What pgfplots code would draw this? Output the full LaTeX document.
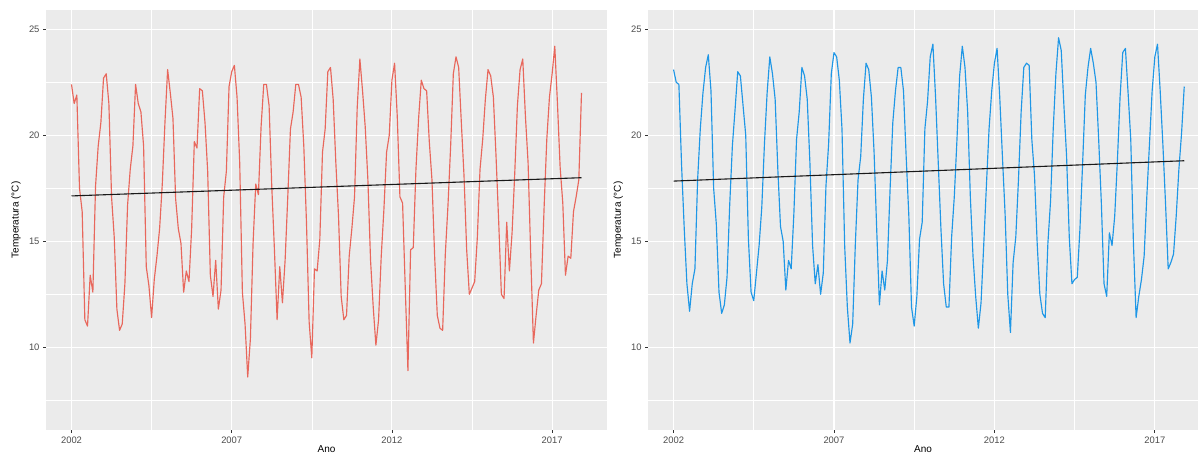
\documentclass[border=0pt]{standalone}
\usepackage{fontspec}
\setmainfont{Liberation Sans}
\usepackage{pgfplots}
\usepackage{pgfplotstable}
\pgfplotsset{compat=1.18}
\definecolor{ggbg}{HTML}{EBEBEB}
\definecolor{ggtick}{HTML}{333333}
\definecolor{ggtext}{HTML}{4D4D4D}
\definecolor{redline}{HTML}{E8675C}
\definecolor{blueline}{HTML}{1F97E6}

\pgfplotstableread{
yr mo red blue
2002 1 22.4 23.1
2002 2 21.5 22.5
2002 3 21.9 22.4
2002 4 17.5 18.6
2002 5 16.4 15.6
2002 6 11.3 13.0
2002 7 11.0 11.7
2002 8 13.4 13.0
2002 9 12.6 13.7
2002 10 17.6 17.9
2002 11 19.5 20.3
2002 12 20.6 22.0
2003 1 22.7 23.2
2003 2 22.9 23.8
2003 3 21.5 22.1
2003 4 17.1 17.5
2003 5 15.2 15.8
2003 6 11.8 12.6
2003 7 10.8 11.6
2003 8 11.1 12.0
2003 9 13.0 13.3
2003 10 16.7 16.7
2003 11 18.4 19.5
2003 12 19.5 21.2
2004 1 22.4 23.0
2004 2 21.5 22.8
2004 3 21.1 21.4
2004 4 19.5 20.0
2004 5 13.8 15.1
2004 6 12.9 12.6
2004 7 11.4 12.2
2004 8 13.2 13.5
2004 9 14.3 14.8
2004 10 15.6 16.6
2004 11 17.7 19.6
2004 12 20.6 22.0
2005 1 23.1 23.7
2005 2 22.0 22.9
2005 3 20.8 21.7
2005 4 17.0 18.4
2005 5 15.6 15.7
2005 6 14.9 15.0
2005 7 12.6 12.7
2005 8 13.6 14.1
2005 9 13.1 13.7
2005 10 15.6 16.3
2005 11 19.7 19.8
2005 12 19.4 21.1
2006 1 22.2 23.2
2006 2 22.1 22.8
2006 3 20.6 21.7
2006 4 18.3 18.7
2006 5 13.4 14.8
2006 6 12.4 13.0
2006 7 14.1 13.9
2006 8 11.8 12.5
2006 9 12.7 13.5
2006 10 17.1 17.6
2006 11 18.3 19.6
2006 12 22.3 22.9
2007 1 23.0 23.9
2007 2 23.3 23.7
2007 3 21.8 22.6
2007 4 18.7 20.3
2007 5 12.6 14.8
2007 6 11.1 11.9
2007 7 8.6 10.2
2007 8 10.4 11.1
2007 9 14.9 14.9
2007 10 17.7 17.9
2007 11 17.2 19.0
2007 12 20.4 21.7
2008 1 22.4 23.4
2008 2 22.4 23.1
2008 3 21.4 21.8
2008 4 17.6 19.2
2008 5 14.6 15.5
2008 6 11.3 12.0
2008 7 13.8 13.6
2008 8 12.1 12.7
2008 9 14.1 14.1
2008 10 17.1 17.5
2008 11 20.3 20.6
2008 12 21.1 22.1
2009 1 22.4 23.2
2009 2 22.4 23.2
2009 3 21.8 22.1
2009 4 19.5 19.0
2009 5 15.9 16.2
2009 6 11.2 11.9
2009 7 9.5 11.0
2009 8 13.7 12.4
2009 9 13.6 15.1
2009 10 15.1 15.9
2009 11 19.2 20.3
2009 12 20.3 21.6
2010 1 23.0 23.7
2010 2 23.2 24.3
2010 3 21.7 21.8
2010 4 18.7 18.7
2010 5 16.2 15.6
2010 6 12.4 13.0
2010 7 11.3 11.9
2010 8 11.5 11.9
2010 9 14.3 15.2
2010 10 15.6 17.1
2010 11 17.1 19.8
2010 12 21.3 22.8
2011 1 23.6 24.2
2011 2 22.1 23.2
2011 3 20.4 21.1
2011 4 17.9 17.1
2011 5 14.1 14.3
2011 6 11.9 12.4
2011 7 10.1 10.9
2011 8 11.3 12.1
2011 9 14.3 14.8
2011 10 16.5 17.6
2011 11 19.2 20.3
2011 12 20.0 22.1
2012 1 22.6 23.4
2012 2 23.4 24.1
2012 3 20.9 21.8
2012 4 17.1 19.0
2012 5 16.8 16.3
2012 6 12.8 12.5
2012 7 8.9 10.7
2012 8 14.6 14.0
2012 9 14.7 15.2
2012 10 18.4 17.9
2012 11 20.8 21.1
2012 12 22.6 23.2
2013 1 22.2 23.4
2013 2 22.1 23.3
2013 3 19.7 19.8
2013 4 17.9 18.1
2013 5 14.3 14.9
2013 6 11.5 12.5
2013 7 10.9 11.6
2013 8 10.8 11.4
2013 9 14.4 14.9
2013 10 16.7 16.9
2013 11 19.5 20.3
2013 12 22.9 22.9
2014 1 23.7 24.6
2014 2 23.2 24.0
2014 3 20.6 21.4
2014 4 18.1 19.0
2014 5 14.6 15.2
2014 6 12.5 13.0
2014 7 12.8 13.2
2014 8 13.1 13.3
2014 9 15.2 15.6
2014 10 18.4 18.7
2014 11 19.8 21.9
2014 12 21.7 23.2
2015 1 23.1 24.1
2015 2 22.8 23.4
2015 3 21.8 22.5
2015 4 19.0 19.8
2015 5 15.9 16.8
2015 6 12.5 13.0
2015 7 12.3 12.4
2015 8 15.9 15.4
2015 9 13.6 14.8
2015 10 15.4 16.2
2015 11 18.2 18.8
2015 12 21.4 21.8
2016 1 23.1 23.9
2016 2 23.6 24.1
2016 3 20.9 22.0
2016 4 18.7 19.8
2016 5 14.3 14.9
2016 6 10.2 11.4
2016 7 11.5 12.4
2016 8 12.7 13.2
2016 9 13.0 14.3
2016 10 16.6 17.1
2016 11 19.8 19.6
2016 12 21.8 22.1
2017 1 22.9 23.7
2017 2 24.2 24.3
2017 3 21.5 22.1
2017 4 18.5 19.6
2017 5 16.8 16.8
2017 6 13.4 13.7
2017 7 14.3 14.0
2017 8 14.2 14.4
2017 9 16.4 16.2
2017 10 17.1 18.4
2017 11 17.9 20.1
2017 12 22.0 22.3
}\temps

\pgfplotsset{ggstyle/.style={
  scale only axis,
  axis background/.style={fill=ggbg},
  axis line style={draw=none},
  xmin=2001.204, ymin=6.1, ymax=25.91,
  xtick={2002,2007,2012,2017}, xticklabels={2002,2007,2012,2017},
  ytick={10,15,20,25}, yticklabels={10,15,20,25},
  minor xtick={2004.5,2009.5,2014.5},
  minor ytick={7.5,12.5,17.5,22.5},
  grid=both,
  major grid style={white, line width=1.1pt},
  minor grid style={white, line width=0.55pt},
  tick align=outside, tick pos=left,
  major tick length=3pt, minor tick length=0pt,
  every tick/.style={ggtick, line width=0.8pt},
  ticklabel style={font=\fontsize{9.4}{10}\selectfont, text=ggtext},
  /pgf/number format/assume math mode=true,
  label style={font=\fontsize{11}{13}\selectfont, text=black},
  xlabel={Ano}, ylabel={Temperatura (°C)},
  every axis x label/.style={at={(axis description cs:0.5,0)}, anchor=base, yshift=-22.5pt},
  height=420pt,
}}

\begin{document}
\begin{tikzpicture}
\useasboundingbox (0,0) rectangle (1198pt,454pt);
\begin{axis}[ggstyle, at={(46pt,24pt)}, anchor=south west, width=561pt, xmax=2018.713,
  every axis y label/.style={at={(axis description cs:-0.0535,0.5)}, rotate=90, anchor=center}]
\addplot[redline, line width=1.15pt, line join=round] table[x expr=\thisrow{yr}+(\thisrow{mo}-1)/12, y=red]{\temps};
\addplot[black!90, line width=1.1pt] coordinates {(2002,17.14) (2017.917,18.00)};
\end{axis}
\begin{axis}[ggstyle, at={(648pt,24pt)}, anchor=south west, width=550pt, xmax=2018.346,
  every axis y label/.style={at={(axis description cs:-0.054,0.5)}, rotate=90, anchor=center}]
\addplot[blueline, line width=1.15pt, line join=round] table[x expr=\thisrow{yr}+(\thisrow{mo}-1)/12, y=blue]{\temps};
\addplot[black!90, line width=1.1pt] coordinates {(2002,17.84) (2017.917,18.80)};
\end{axis}
\end{tikzpicture}
\end{document}
